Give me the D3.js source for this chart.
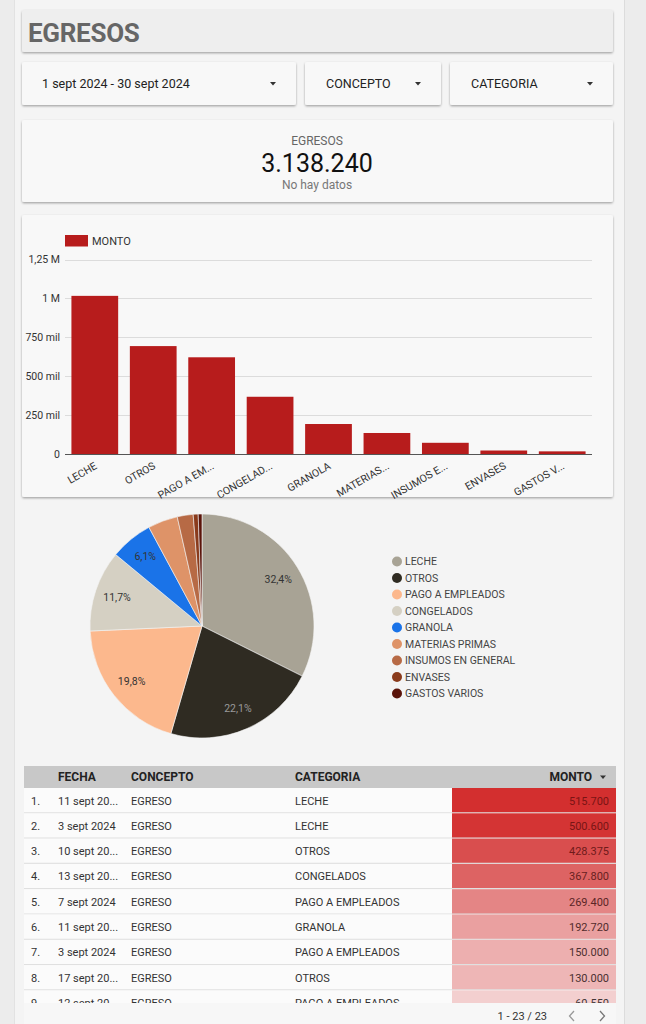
<!DOCTYPE html>
<html>
<head>
<meta charset="utf-8">
<script src="https://cdn.jsdelivr.net/npm/d3@7"></script>
<style>
  html, body { margin: 0; padding: 0; background: #ebebeb; }
  svg { display: block; font-family: Roboto, "Noto Sans", sans-serif; }
</style>
</head>
<body>
<svg id="chart" width="646" height="1024"></svg>
<script>
// ---------- DATA ----------
const categories = ["LECHE", "OTROS", "PAGO A EMPLEADOS", "CONGELADOS", "GRANOLA", "MATERIAS PRIMAS", "INSUMOS EN GENERAL", "ENVASES", "GASTOS VARIOS"];
const montos = [1016300, 693500, 621500, 367800, 192720, 135000, 72000, 22420, 17000];
const xTickLabels = ["LECHE", "OTROS", "PAGO A EM...", "CONGELAD...", "GRANOLA", "MATERIAS...", "INSUMOS E...", "ENVASES", "GASTOS V..."];
const yTickValues = [0, 250000, 500000, 750000, 1000000, 1250000];
const yTickLabels = ["0", "250 mil", "500 mil", "750 mil", "1 M", "1,25 M"];
const pieColors = ["#a8a395", "#2f2b22", "#fcb88d", "#d5d0c3", "#1a73e8", "#de9368", "#b76a45", "#8a3b1c", "#5a140a"];

const filterLabels = ["1 sept 2024 - 30 sept 2024", "CONCEPTO", "CATEGORIA"];

const tableHeaders = ["FECHA", "CONCEPTO", "CATEGORIA", "MONTO"];
const tableFecha = ["11 sept 2024", "3 sept 2024", "10 sept 2024", "13 sept 2024", "7 sept 2024", "11 sept 2024", "3 sept 2024", "17 sept 2024", "12 sept 2024"];
const tableConcepto = ["EGRESO", "EGRESO", "EGRESO", "EGRESO", "EGRESO", "EGRESO", "EGRESO", "EGRESO", "EGRESO"];
const tableCategoria = ["LECHE", "LECHE", "OTROS", "CONGELADOS", "PAGO A EMPLEADOS", "GRANOLA", "PAGO A EMPLEADOS", "OTROS", "PAGO A EMPLEADOS"];
const tableMonto = [515700, 500600, 428375, 367800, 269400, 192720, 150000, 130000, 60550];
const tableTotalRows = 23;

// ---------- HELPERS ----------
const esLocale = d3.formatLocale({ decimal: ",", thousands: ".", grouping: [3], currency: ["$", ""] });
const fmtInt = esLocale.format(",.0f");
const fmtPct = esLocale.format(".1%");

const svg = d3.select("#chart");
const defs = svg.append("defs");
const shadow = defs.append("filter").attr("id", "shadow").attr("x", "-5%").attr("y", "-10%").attr("width", "110%").attr("height", "130%");
shadow.append("feDropShadow").attr("dx", 0).attr("dy", 1.2).attr("stdDeviation", 0.9).attr("flood-color", "#000").attr("flood-opacity", 0.35);

// page panel
svg.append("rect").attr("x", 0).attr("y", 0).attr("width", 646).attr("height", 1024).attr("fill", "#ececec");
svg.append("rect").attr("x", 14).attr("y", 0).attr("width", 610).attr("height", 1024).attr("fill", "#f4f4f4");
svg.append("line").attr("x1", 14.5).attr("x2", 14.5).attr("y1", 0).attr("y2", 1024).attr("stroke", "#e2e2e2");
svg.append("line").attr("x1", 624.5).attr("x2", 624.5).attr("y1", 0).attr("y2", 1024).attr("stroke", "#dcdcdc");

function card(x, y, w, h, fill) {
  svg.append("rect").attr("x", x).attr("y", y).attr("width", w).attr("height", h)
    .attr("rx", 2).attr("fill", fill || "#f8f8f8").attr("filter", "url(#shadow)");
}

// ---------- TITLE ----------
card(22, 10, 591, 42, "#eeeeee");
svg.append("text").attr("x", 28).attr("y", 42).attr("font-size", 26).attr("font-weight", 700)
  .attr("fill", "#666").attr("letter-spacing", "-0.3").text("EGRESOS");

// ---------- FILTERS ----------
const filterBoxes = [[22, 274, 42, 273], [305, 136, 326, 418], [450, 163, 471, 590]];
filterBoxes.forEach((b, i) => {
  card(b[0], 62, b[1], 43);
  svg.append("text").attr("x", b[2]).attr("y", 88).attr("font-size", 12.5).attr("fill", "#222").text(filterLabels[i]);
  svg.append("path").attr("d", `M${b[3] - 3},82 L${b[3] + 3},82 L${b[3]},85.5 Z`).attr("fill", "#333");
});

// ---------- KPI ----------
card(22, 120, 591, 82);
const total = d3.sum(montos);
svg.append("text").attr("x", 317).attr("y", 145).attr("text-anchor", "middle").attr("font-size", 12).attr("fill", "#666").text("EGRESOS");
svg.append("text").attr("x", 317).attr("y", 172).attr("text-anchor", "middle").attr("font-size", 25).attr("fill", "#111").text(fmtInt(total));
svg.append("text").attr("x", 317).attr("y", 189).attr("text-anchor", "middle").attr("font-size", 12).attr("fill", "#777").text("No hay datos");

// ---------- BAR CHART ----------
card(22, 215, 591, 282);
const x = d3.scaleBand().domain(categories).range([65, 592]).paddingInner(0.2).paddingOuter(0.11);
const y = d3.scaleLinear().domain([0, 1250000]).range([454, 259.5]);

const gGrid = svg.append("g");
gGrid.selectAll("line").data(yTickValues.filter(v => v > 0)).join("line")
  .attr("x1", 65).attr("x2", 592).attr("y1", d => Math.round(y(d)) + 0.5).attr("y2", d => Math.round(y(d)) + 0.5)
  .attr("stroke", "#dcdcdc");

const yAxis = d3.axisLeft(y).tickValues(yTickValues).tickFormat((d, i) => yTickLabels[i]).tickSize(0).tickPadding(5);
const gy = svg.append("g").attr("transform", "translate(65,0)").call(yAxis);
gy.select(".domain").remove();
gy.selectAll("text").attr("font-size", 10.5).attr("fill", "#333").attr("font-family", "Roboto");

svg.append("g").selectAll("rect").data(montos).join("rect")
  .attr("x", (d, i) => x(categories[i])).attr("width", x.bandwidth())
  .attr("y", d => y(d)).attr("height", d => y(0) - y(d))
  .attr("fill", "#b71c1c");

const xAxis = d3.axisBottom(x).tickSize(0).tickFormat((d, i) => xTickLabels[i]);
const gx = svg.append("g").attr("transform", "translate(0,454)").call(xAxis);
gx.select(".domain").attr("stroke", "#555").attr("d", "M65,0.5H592");
gx.selectAll("text").attr("font-size", 10.5).attr("fill", "#333").attr("font-family", "Roboto")
  .attr("text-anchor", "end").attr("dy", 0)
  .attr("transform", "translate(3,14) rotate(-30)")
  .attr("y", 0).attr("x", 0);
gx.selectAll(".tick").each(function (d) {
  const cx = x(d) + x.bandwidth() / 2;
  d3.select(this).attr("transform", `translate(${cx},0)`);
});

// legend
svg.append("rect").attr("x", 65).attr("y", 235).attr("width", 23).attr("height", 11.5).attr("fill", "#b71c1c");
svg.append("text").attr("x", 92).attr("y", 245).attr("font-size", 11).attr("fill", "#333").text("MONTO");

// ---------- PIE ----------
const pcx = 202, pcy = 626, pr = 112;
const pie = d3.pie().sort(null).value(d => d)(montos);
const arc = d3.arc().innerRadius(0).outerRadius(pr);
const labelArc = d3.arc().innerRadius(pr * 0.8).outerRadius(pr * 0.8);
const gp = svg.append("g").attr("transform", `translate(${pcx},${pcy})`);
gp.selectAll("path").data(pie).join("path").attr("d", arc).attr("fill", (d, i) => pieColors[i])
  .attr("stroke", "#f4f4f4").attr("stroke-width", 0.6);
gp.selectAll("text").data(pie.filter(d => d.value / total >= 0.05)).join("text")
  .attr("transform", d => `translate(${labelArc.centroid(d)})`)
  .attr("text-anchor", "middle").attr("dy", "0.35em").attr("font-size", 10.5)
  .attr("fill", d => d.index === 1 ? "#9a9a9a" : "#333")
  .text(d => fmtPct(d.value / total));

const gl = svg.append("g");
const legRow = gl.selectAll("g").data(categories).join("g").attr("transform", (d, i) => `translate(397,${561.5 + i * 16.5})`);
legRow.append("circle").attr("r", 5).attr("fill", (d, i) => pieColors[i]);
legRow.append("text").attr("x", 8).attr("dy", "0.35em").attr("font-size", 10.5).attr("fill", "#444").text(d => d);

// ---------- TABLE ----------
const tX = 24, tW = 592, tTop = 766, headH = 22, rowH = 25.3;
svg.append("rect").attr("x", tX).attr("y", tTop).attr("width", tW).attr("height", 1024 - tTop).attr("fill", "#f7f7f7");
svg.append("rect").attr("x", tX).attr("y", tTop).attr("width", tW).attr("height", headH).attr("fill", "#c8c8c8");
const colX = [58, 131, 295];
tableHeaders.slice(0, 3).forEach((h, i) => {
  svg.append("text").attr("x", colX[i]).attr("y", tTop + 15).attr("font-size", 12).attr("font-weight", 700).attr("fill", "#222").text(h);
});
svg.append("text").attr("x", 592).attr("y", tTop + 15).attr("text-anchor", "end").attr("font-size", 12).attr("font-weight", 700).attr("fill", "#222").text(tableHeaders[3]);
svg.append("path").attr("d", `M600,${tTop + 9.5} L606,${tTop + 9.5} L603,${tTop + 13} Z`).attr("fill", "#333");

defs.append("clipPath").attr("id", "tclip").append("rect").attr("x", tX).attr("y", tTop + headH).attr("width", tW).attr("height", 1003 - tTop - headH);
const heat = d3.scaleLinear().domain([0, d3.max(tableMonto)]).range(["#f7e4e4", "#d32f2f"]);
const heatText = d3.scaleLinear().domain([0, d3.max(tableMonto)]).range(["#3a3a3a", "#7a1414"]);
const gt = svg.append("g").attr("clip-path", "url(#tclip)");
const rows = gt.selectAll("g").data(tableMonto).join("g").attr("transform", (d, i) => `translate(0,${tTop + headH + i * rowH})`);
rows.append("rect").attr("x", tX).attr("width", tW).attr("height", rowH).attr("fill", "#fbfbfb");
rows.append("rect").attr("x", 452).attr("width", 616 - 452).attr("height", rowH).attr("fill", d => heat(d));
rows.append("line").attr("x1", tX).attr("x2", tX + tW).attr("y1", rowH - 0.5).attr("y2", rowH - 0.5).attr("stroke", "#e0e0e0").attr("stroke-width", 1.2);
rows.append("text").attr("x", 31).attr("y", rowH / 2).attr("dy", "0.35em").attr("font-size", 11).attr("fill", "#333").text((d, i) => (i + 1) + ".");
const maxDateW = 59;
rows.append("text").attr("x", colX[0]).attr("y", rowH / 2).attr("dy", "0.35em").attr("font-size", 11).attr("fill", "#333")
  .text((d, i) => tableFecha[i])
  .each(function () {
    const el = d3.select(this);
    const full = el.text();
    if (this.getComputedTextLength() > maxDateW) {
      let s = full;
      while (s.length > 1) {
        s = s.slice(0, -1);
        el.text(s.trimEnd() + "...");
        if (this.getComputedTextLength() <= maxDateW + 4) break;
      }
    }
  });
rows.append("text").attr("x", colX[1]).attr("y", rowH / 2).attr("dy", "0.35em").attr("font-size", 11).attr("fill", "#333").text((d, i) => tableConcepto[i]);
rows.append("text").attr("x", colX[2]).attr("y", rowH / 2).attr("dy", "0.35em").attr("font-size", 11).attr("fill", "#333").text((d, i) => tableCategoria[i]);
rows.append("text").attr("x", 609).attr("y", rowH / 2).attr("dy", "0.35em").attr("text-anchor", "end").attr("font-size", 11)
  .attr("fill", d => heatText(d)).text(d => fmtInt(d));

// pagination
svg.append("text").attr("x", 547).attr("y", 1020).attr("text-anchor", "end").attr("font-size", 11).attr("fill", "#333")
  .text(`1 - ${tableTotalRows} / ${tableTotalRows}`);
svg.append("path").attr("d", "M574,1011 L569.5,1016 L574,1021").attr("fill", "none").attr("stroke", "#999").attr("stroke-width", 1.3);
svg.append("path").attr("d", "M600,1011 L604.5,1016 L600,1021").attr("fill", "none").attr("stroke", "#777").attr("stroke-width", 1.3);
</script>
</body>
</html>
